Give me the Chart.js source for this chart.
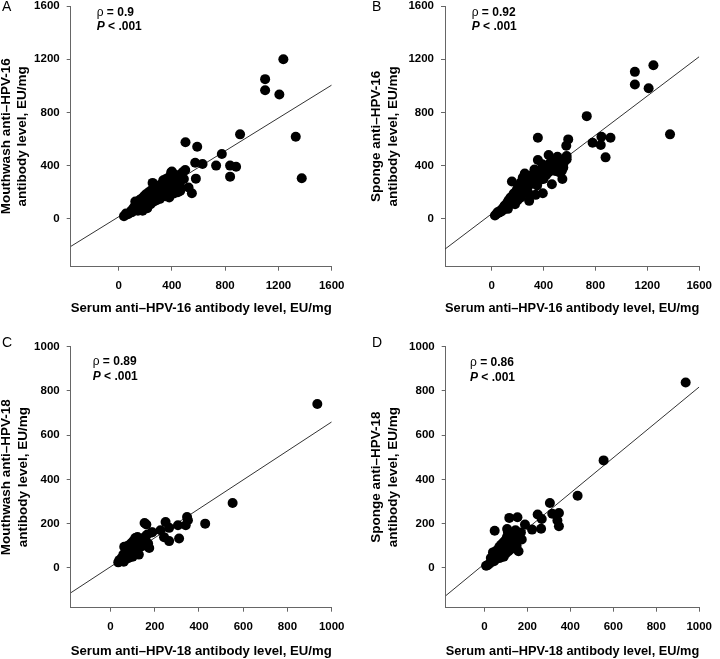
<!DOCTYPE html>
<html>
<head>
<meta charset="utf-8">
<script src="https://cdn.jsdelivr.net/npm/chart.js@4/dist/chart.umd.min.js"></script>
<style>
  html, body { margin: 0; padding: 0; background: #fff; overflow: hidden; width: 720px; height: 659px; }
  .panel { position: absolute; width: 360px; height: 340px; }
</style>
</head>
<body>
<div class="panel" style="left:0;top:-10px"><canvas id="chartA" width="360" height="340"></canvas></div>
<div class="panel" style="left:360px;top:-10px"><canvas id="chartB" width="360" height="340"></canvas></div>
<div class="panel" style="left:0;top:320px"><canvas id="chartC" width="360" height="340"></canvas></div>
<div class="panel" style="left:360px;top:320px"><canvas id="chartD" width="360" height="340"></canvas></div>
<script>
const fontFamily = '"Liberation Sans", Arial, Helvetica, sans-serif';

// tick labels
const ticks16 = [0, 400, 800, 1200, 1600];
const ticks18 = [0, 200, 400, 600, 800, 1000];

// A: serum vs mouthwash, HPV-16
const serumA = [1237, 1100, 1100, 1207, 1330, 1375, 912, 775, 732, 837, 882, 837, 502, 590, 575, 630, 580, 525, 550, 500, 467, 462, 400,
  40, 55, 70, 85, 95, 100, 110, 115, 120, 125, 130, 135, 140, 145, 150, 155, 160, 165, 170, 175, 180, 185, 190, 195, 200, 205, 210, 215, 220, 225,
  230, 235, 240, 245, 250, 255, 260, 265, 270, 275, 280, 285, 290, 295, 300, 310, 315, 320, 330, 335, 340, 350, 355, 360, 365, 370, 375, 380, 385, 390,
  395, 400, 405, 410, 415, 420, 425, 430, 440, 445, 450, 460, 470, 480, 490];
const mouthwashA = [1200, 1050, 967, 935, 617, 305, 635, 487, 400, 400, 392, 317, 575, 542, 422, 412, 302, 235, 192, 367, 292, 210, 355,
  20, 40, 35, 45, 60, 50, 80, 65, 90, 130, 70, 110, 95, 60, 120, 140, 100, 80, 150, 115, 60, 130, 170, 100, 145, 185, 120, 80, 160, 200,
  140, 175, 110, 215, 155, 270, 190, 130, 230, 170, 250, 140, 205, 180, 240, 150, 215, 260, 190, 290, 230, 170, 300, 250, 200, 270, 310, 160, 240, 290,
  350, 210, 320, 260, 190, 300, 240, 330, 280, 200, 320, 250, 330, 350, 300];
const fitA = [15, 0.619]; // intercept, slope

// B: serum vs sponge, HPV-16
const serumB = [1104, 1104, 1210, 1247, 1375, 733, 778, 846, 841, 916, 878, 590, 575, 578, 578, 356, 356, 156, 439, 507, 545, 552, 464, 394, 339, 289,
  25, 35, 45, 55, 65, 75, 85, 95, 100, 110, 120, 125, 130, 140, 145, 150, 160, 165, 170, 175, 180, 185, 190, 195, 200, 205, 210, 215,
  220, 225, 230, 235, 240, 245, 250, 255, 260, 265, 270, 275, 280, 290, 300, 310, 320, 330, 340, 350, 360, 370, 380, 390, 400, 410, 420, 430,
  440, 450, 460, 470, 480, 490, 500, 510, 520, 530, 540, 555];
const spongeB = [1105, 1010, 982, 1155, 635, 772, 572, 617, 555, 610, 462, 597, 550, 472, 447, 610, 442, 280, 480, 467, 300, 385, 260, 192, 180, 135,
  25, 35, 50, 45, 60, 55, 80, 70, 100, 90, 120, 75, 140, 110, 160, 130, 170, 120, 190, 150, 110, 200, 165, 220, 140, 240, 185, 260,
  200, 160, 280, 230, 310, 190, 250, 340, 210, 280, 320, 240, 200, 300, 260, 330, 280, 370, 310, 250, 330, 290, 360, 410, 300, 380, 330, 400,
  350, 420, 380, 440, 400, 360, 430, 390, 350, 400, 360, 420];
const fitB = [38, 0.738];

// C: serum vs mouthwash, HPV-18
const serumC = [154, 162, 189, 226, 242, 249, 265, 265, 305, 310, 340, 346, 350, 428, 552, 935,
  35, 40, 45, 50, 55, 58, 60, 62, 65, 68, 70, 72, 75, 78, 80, 82, 85, 88, 90, 92, 95, 98, 100, 102, 105, 108, 110, 112, 115, 118,
  120, 122, 125, 128, 130, 135, 140, 145, 150, 155, 160, 165, 170, 175, 185];
const mouthwashC = [203, 196, 161, 170, 139, 207, 181, 121, 193, 133, 193, 230, 215, 200, 293, 741,
  25, 35, 30, 45, 40, 60, 28, 95, 50, 70, 40, 85, 55, 100, 65, 45, 80, 95, 60, 110, 75, 90, 50, 120, 85, 100, 70, 135, 95, 115,
  80, 140, 105, 60, 120, 95, 130, 110, 125, 140, 100, 150, 110, 90, 160];
const fitC = [5, 0.655];

// D: serum vs sponge, HPV-18
const serumD = [937, 555, 434, 305, 316, 347, 340, 347, 248, 267, 222, 264, 189, 154, 116, 48, 174, 159, 106,
  8, 15, 25, 30, 35, 40, 45, 48, 52, 55, 58, 62, 65, 68, 70, 72, 75, 78, 80, 82, 85, 88, 90, 92, 95, 98, 100, 102, 105, 108,
  110, 112, 115, 118, 120, 125, 130, 135, 140, 145, 150, 160, 170];
const spongeD = [838, 486, 326, 293, 245, 248, 214, 188, 241, 221, 173, 177, 196, 229, 226, 168, 128, 75, 176,
  10, 12, 20, 45, 35, 70, 30, 55, 75, 40, 65, 50, 85, 60, 95, 45, 75, 105, 55, 90, 70, 115, 50, 100, 80, 125, 65, 110, 140, 90,
  160, 75, 120, 100, 135, 85, 150, 115, 130, 170, 100, 145, 160];
const fitD = [18, 0.80];

// text drawn on top: panel letter and correlation
const annotate = {
  id: 'annotate',
  afterDraw(chart) {
    const p = chart.options.plugins.annotate;
    const ctx = chart.ctx;
    const area = chart.chartArea;
    ctx.save();
    ctx.fillStyle = '#000';
    ctx.textAlign = 'left';
    ctx.textBaseline = 'middle';
    ctx.font = '14px ' + fontFamily;
    ctx.fillText(p.letter, p.letterX, p.letterY);

    const x = area.left + p.dx;
    let y = area.top + p.dy;
    ctx.font = '12px ' + fontFamily;
    ctx.fillText('\u03c1', x, y);
    const w = ctx.measureText('\u03c1').width;
    ctx.font = 'bold 12px ' + fontFamily;
    ctx.fillText(' = ' + p.rho, x + w, y);

    y += p.gap;
    ctx.font = 'italic bold 12px ' + fontFamily;
    ctx.fillText('P', x, y);
    const wp = ctx.measureText('P').width;
    ctx.font = 'bold 12px ' + fontFamily;
    ctx.fillText(' < .001', x + wp, y);
    ctx.restore();
  }
};

function makePanel(id, cfg) {
  const points = cfg.xs.map((v, i) => ({ x: v, y: cfg.ys[i] }));
  const fitLine = [cfg.min, cfg.max].map(v => ({ x: v, y: cfg.fit[0] + cfg.fit[1] * v }));
  const tickFont = { family: fontFamily, size: 11.5, weight: 'bold' };
  const titleFont = { family: fontFamily, size: 13.5, weight: 'bold' };
  const axisCommon = {
    type: 'linear',
    min: cfg.min,
    max: cfg.max,
    grid: { display: true, drawOnChartArea: false, drawTicks: true, tickLength: 4, color: '#666' },
    border: { display: true, color: '#666', width: 1 },
    afterBuildTicks: (axis) => { axis.ticks = cfg.ticks.map(v => ({ value: v })); }
  };
  const plainLabel = (v) => String(v);

  return new Chart(document.getElementById(id), {
    type: 'scatter',
    data: {
      datasets: [
        {
          data: points,
          backgroundColor: '#000',
          borderWidth: 0,
          pointRadius: 5,
          pointHoverRadius: 5
        },
        {
          type: 'line',
          data: fitLine,
          borderColor: '#333',
          borderWidth: 1,
          pointRadius: 0,
          fill: false
        }
      ]
    },
    options: {
      responsive: false,
      animation: false,
      events: [],
      devicePixelRatio: 1,
      layout: { padding: { top: cfg.top, right: cfg.right, bottom: 0, left: 0 } },
      plugins: {
        legend: { display: false },
        tooltip: { enabled: false },
        annotate: cfg.note
      },
      scales: {
        x: {
          ...axisCommon,
          position: 'bottom',
          ticks: { color: '#000', font: tickFont, padding: 8, callback: plainLabel },
          title: { display: true, text: cfg.xTitle, color: '#000', font: titleFont, padding: { top: 0, bottom: cfg.xTitlePad } },
          afterFit: (scale) => { scale.height = cfg.xHeight; }
        },
        y: {
          ...axisCommon,
          position: 'left',
          ticks: { color: '#000', font: tickFont, padding: 7, callback: plainLabel },
          title: { display: true, text: cfg.yTitle, color: '#000', font: titleFont, padding: { top: cfg.yTitlePad, bottom: 0 } },
          afterFit: (scale) => { scale.width = cfg.yWidth; }
        }
      }
    },
    plugins: [annotate]
  });
}

const xTitle16 = 'Serum anti\u2013HPV-16 antibody level, EU/mg';
const xTitle18 = 'Serum anti\u2013HPV-18 antibody level, EU/mg';

makePanel('chartA', {
  xs: serumA, ys: mouthwashA, fit: fitA, min: -360, max: 1600, ticks: ticks16,
  top: 16, right: 28.3, yWidth: 70.7, xHeight: 63.3, xTitlePad: 14, yTitlePad: -1.8,
  xTitle: xTitle16, yTitle: ['Mouthwash anti\u2013HPV-16', 'antibody level, EU/mg'],
  note: { letter: 'A', letterX: 2, letterY: 16.7, dx: 26, dy: 7, gap: 13.7, rho: '0.9' }
});
makePanel('chartB', {
  xs: serumB, ys: spongeB, fit: fitB, min: -360, max: 1600, ticks: ticks16,
  top: 16, right: 15, yWidth: 85, xHeight: 63.3, xTitlePad: 14, yTitlePad: 8.6,
  xTitle: xTitle16, yTitle: ['Sponge anti\u2013HPV-16', 'antibody level, EU/mg'],
  note: { letter: 'B', letterX: 12, letterY: 16.7, dx: 26.7, dy: 7, gap: 13.7, rho: '0.92' }
});
makePanel('chartC', {
  xs: serumC, ys: mouthwashC, fit: fitC, min: -180, max: 1000, ticks: ticks18,
  top: 26.7, right: 28.3, yWidth: 70.7, xHeight: 52.3, xTitlePad: 1.1, yTitlePad: -1.4,
  xTitle: xTitle18, yTitle: ['Mouthwash anti\u2013HPV-18', 'antibody level, EU/mg'],
  note: { letter: 'C', letterX: 2, letterY: 23.3, dx: 22, dy: 15, gap: 15, rho: '0.89' }
});
makePanel('chartD', {
  xs: serumD, ys: spongeD, fit: fitD, min: -180, max: 1000, ticks: ticks18,
  top: 26.7, right: 15, yWidth: 85.7, xHeight: 52.3, xTitlePad: 1.1, yTitlePad: 8.6,
  xTitle: xTitle18, yTitle: ['Sponge anti\u2013HPV-18', 'antibody level, EU/mg'],
  note: { letter: 'D', letterX: 12, letterY: 23.3, dx: 24.3, dy: 15.5, gap: 15, rho: '0.86' }
});
</script>
</body>
</html>
